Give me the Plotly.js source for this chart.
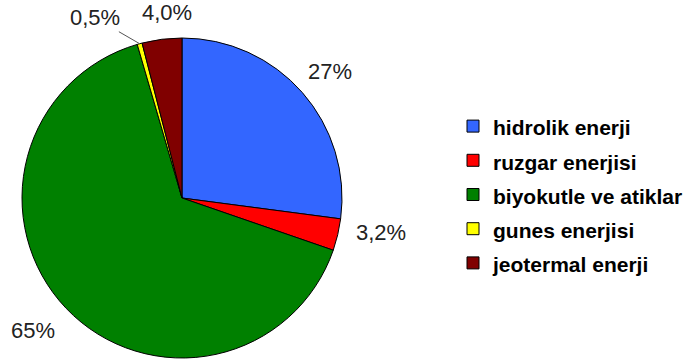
<!DOCTYPE html>
<html>
<head>
<meta charset="utf-8">
<script src="https://cdn.plot.ly/plotly-3.0.1.min.js"></script>
<style>
  html, body { margin: 0; padding: 0; background: #ffffff; }
  #chart { width: 690px; height: 364px; }
</style>
</head>
<body>
<div id="chart"></div>
<script>
// Energy sources and their shares (%)
const sources = ['hidrolik enerji', 'ruzgar enerjisi', 'biyokutle ve atiklar', 'gunes enerjisi', 'jeotermal enerji'];
const shares = [27, 3.2, 65, 0.5, 4.0];
const shareLabels = ['27%', '3,2%', '65%', '0,5%', '4,0%'];
const sliceColors = ['#3366ff', '#ff0000', '#008000', '#ffff00', '#800000'];

// Figure and pie geometry (pixels)
const W = 690, H = 364;
const PIE = { cx: 182, cy: 198, r: 160 };
const LABEL_GAP = 15;          // distance of the percentage labels from the rim
const TINY_SHARE = 1;          // slices below this get a label on a leader line
const LEADER_OFFSET = [-45, -26];
// small per-label nudges (px, right / down) to keep labels clear of each other
const LABEL_NUDGE = [[-8, 3], [2, -6], [2, -3], [0, 0], [7, 3]];

// Legend entries use a smaller inner font so the row spacing stays roomy
const legendNames = sources.map(s => '<span style="font-size:21px">' + s + '</span>');

const trace = {
  type: 'pie',
  labels: legendNames,
  values: shares,
  text: shareLabels,
  textinfo: 'none',
  hoverinfo: 'label+text',
  sort: false,
  direction: 'clockwise',
  rotation: 0,
  marker: { colors: sliceColors, line: { color: '#000000', width: 1 } },
  domain: {
    x: [(PIE.cx - PIE.r) / W, (PIE.cx + PIE.r) / W],
    y: [(H - PIE.cy - PIE.r) / H, (H - PIE.cy + PIE.r) / H]
  },
  showlegend: true
};

// Percentage labels placed just outside each slice, along its middle angle
const total = shares.reduce((a, b) => a + b, 0);
const labelFont = { family: 'Liberation Sans, Arial, sans-serif', size: 22, color: '#222222' };
const annotations = [];
let cum = 0;
shares.forEach((v, i) => {
  const mid = (cum + v / 2) / total * 2 * Math.PI;
  cum += v;
  const s = Math.sin(mid), c = Math.cos(mid);
  if (v < TINY_SHARE) {
    annotations.push({
      xref: 'paper', yref: 'paper',
      x: (PIE.cx + PIE.r * s) / W,
      y: (H - PIE.cy + PIE.r * c) / H,
      text: shareLabels[i],
      font: labelFont,
      showarrow: true, arrowhead: 0, arrowwidth: 1, arrowcolor: '#555555',
      ax: LEADER_OFFSET[0], ay: LEADER_OFFSET[1], standoff: 0
    });
    return;
  }
  const d = PIE.r + LABEL_GAP;
  annotations.push({
    xref: 'paper', yref: 'paper',
    x: (PIE.cx + d * s) / W,
    y: (H - PIE.cy + d * c) / H,
    xanchor: Math.abs(s) < 0.3 ? 'center' : (s > 0 ? 'left' : 'right'),
    yanchor: Math.abs(c) < 0.3 ? 'middle' : (c > 0 ? 'bottom' : 'top'),
    xshift: LABEL_NUDGE[i][0],
    yshift: -LABEL_NUDGE[i][1],
    text: shareLabels[i],
    font: labelFont,
    showarrow: false
  });
});

const layout = {
  width: W,
  height: H,
  margin: { l: 0, r: 0, t: 0, b: 0 },
  paper_bgcolor: '#ffffff',
  showlegend: true,
  annotations: annotations,
  legend: {
    x: 453 / W,
    xanchor: 'left',
    y: 1 - 104 / H,
    yanchor: 'top',
    font: { family: 'Liberation Sans, Arial, sans-serif', size: 24, color: '#000000', weight: 'bold' },
    bgcolor: 'rgba(0,0,0,0)',
    borderwidth: 0
  }
};

Plotly.newPlot('chart', [trace], layout, { staticPlot: true, displayModeBar: false });
</script>
</body>
</html>
